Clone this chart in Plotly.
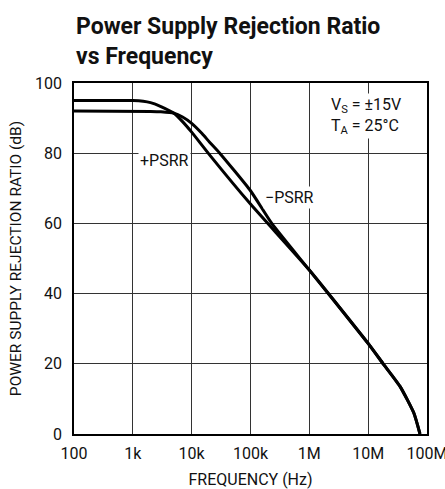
import plotly.graph_objects as go

# Data
pos_freq = [100, 1000, 1500, 2000, 3000, 5000, 7000, 10000, 20000, 100000, 1e6, 1e7, 1.8e7, 3.5e7, 6e7, 7.6e7]
pos_db   = [95, 95, 94.8, 94.4, 93.3, 91.4, 89.0, 86.0, 79.6, 65.5, 46.7, 25.8, 20.0, 13.5, 5.9, 0]

neg_freq = [100, 2000, 3000, 5000, 7000, 10000, 15000, 20000, 30000, 100000, 230000, 1e6, 1e7, 1.8e7, 3.5e7, 6e7, 7.6e7]
neg_db   = [92, 91.9, 91.8, 91.4, 90.3, 88.5, 85.6, 83.2, 80.0, 69.3, 60.0, 46.7, 25.8, 20.0, 13.5, 5.9, 0]

x_tickvals = [1e2, 1e3, 1e4, 1e5, 1e6, 1e7, 1e8]
x_ticktext = ["100", "1k", "10k", "100k", "1M", "10M", "100M"]
y_tickvals = [0, 20, 40, 60, 80, 100]

FONT = "Roboto, Liberation Sans, sans-serif"


def f(size, weight="normal"):
    return dict(family=FONT, size=size, color="#111", weight=weight)


fig = go.Figure()
for fx, fy in [(pos_freq, pos_db), (neg_freq, neg_db)]:
    fig.add_trace(go.Scatter(x=fx, y=fy, mode="lines",
                             line=dict(color="black", width=3, shape="spline", smoothing=0.5),
                             showlegend=False, hoverinfo="skip"))

fig.update_layout(
    width=445, height=489,
    margin=dict(l=74, r=18, t=83, b=55, autoexpand=False),
    paper_bgcolor="white", plot_bgcolor="white",
    font=f(16),
    xaxis=dict(type="log", range=[1.9999, 8.0001], tickvals=x_tickvals, ticktext=x_ticktext,
               showgrid=True, gridcolor="#333", gridwidth=1, zeroline=False,
               showline=True, linecolor="black", linewidth=1.5, mirror=True,
               ticks="outside", ticklen=4, tickcolor="rgba(0,0,0,0)",
               tickfont=f(16), ticklabeloverflow="allow",
               title=dict(text="FREQUENCY (Hz)", font=f(16), standoff=12)),
    yaxis=dict(range=[0, 100], tickvals=y_tickvals,
               showgrid=True, gridcolor="#333", gridwidth=1, zeroline=False,
               showline=True, linecolor="black", linewidth=1.5, mirror=True,
               ticks="outside", ticklen=7, tickcolor="rgba(0,0,0,0)",
               tickfont=f(16),
               title=dict(text="POWER SUPPLY REJECTION RATIO (dB)", font=f(15.5), standoff=10)),
)

fig.add_annotation(xref="paper", yref="paper", x=0, y=1, xanchor="left", yanchor="bottom",
                   yshift=11, align="left", showarrow=False,
                   text="<b>Power Supply Rejection Ratio<br>vs Frequency</b>",
                   font=f(23, "bold"))

fig.add_annotation(x=3.53, y=77.8, xref="x", yref="y", text="+PSRR", showarrow=False,
                   bgcolor="white", font=f(16))
fig.add_annotation(x=5.67, y=67.5, xref="x", yref="y", text="\u2212PSRR", showarrow=False,
                   bgcolor="white", font=f(16))
fig.add_annotation(x=6.34, y=90.6, xref="x", yref="y", xanchor="left",
                   text="V<sub>S</sub> = \u00b115V<br>T<sub>A</sub> = 25\u00b0C", align="left",
                   showarrow=False, bgcolor="white", font=f(16))

fig.write_html("out.html", config={"displayModeBar": False},
               post_script="document.body.style.margin='0';")
